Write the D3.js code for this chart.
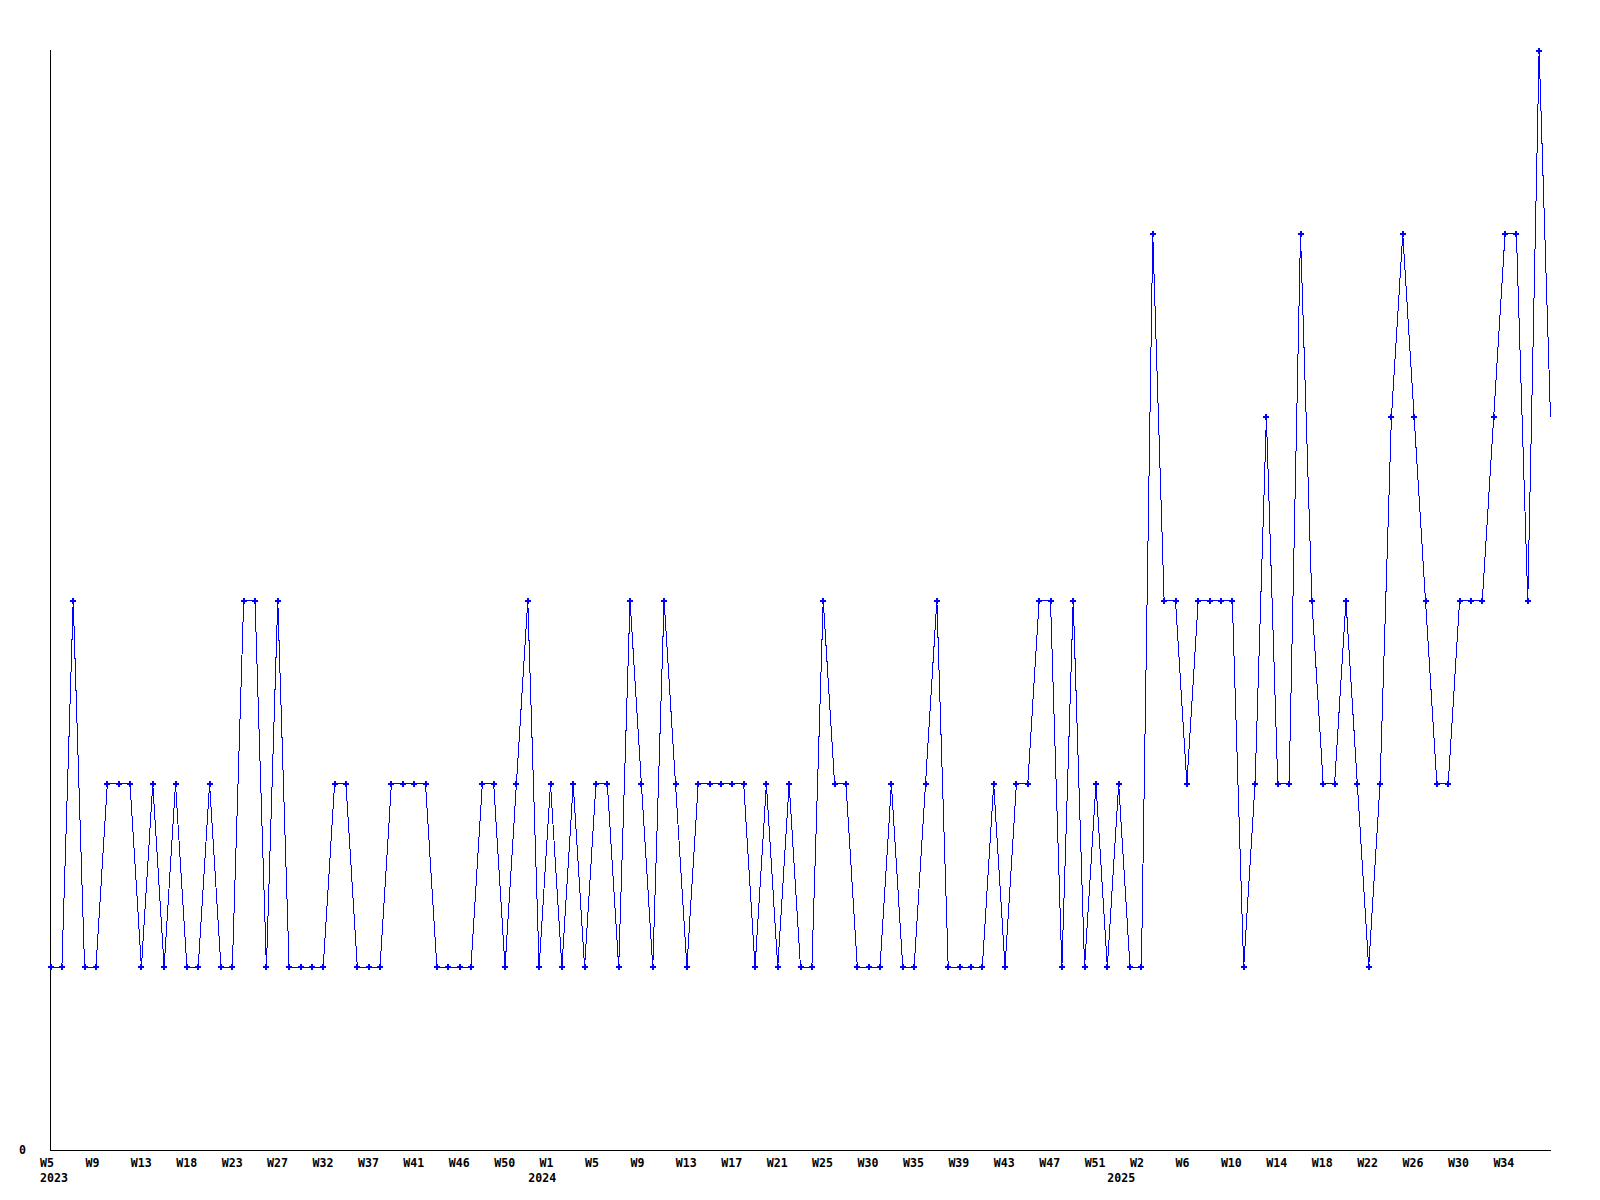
<!DOCTYPE html>
<html>
<head>
<meta charset="utf-8">
<script src="https://cdn.jsdelivr.net/npm/d3@7"></script>
<style>
  html, body { margin: 0; padding: 0; background: #fff; }
  svg { display: block; }
  text { font-family: "DejaVu Sans Mono", "Liberation Mono", monospace; font-weight: bold; font-size: 11.6px; fill: #000; }
</style>
</head>
<body>
<svg id="chart" width="1600" height="1200"></svg>
<script>
// ---- data (weekly counts, 2023 W5 onward) ----
const values2023 = [1,1,3,1,1,2,2,2,1,2,1,2,1,1,2,1,1,3,3,1,3,1,1,1,1,2,2,1,1,1,2,2,2,2,1,1,1,1,2,2,1,2,3,1,2,1,2,1];
const values2024 = [2,2,1,3,2,1,3,2,1,2,2,2,2,2,1,2,1,2,1,1,3,2,2,1,1,1,2,1,1,2,3,1,1,1,1,2,1,2,2,3,3,1,3,1,2,1,2,1,1,5,3,3];
const values2025 = [2,3,3,3,3,1,2,4,2,2,5,3,2,2,3,2,1,2,4,5,4,3,2,2,3,3,3,4,5,5,3,6,4];
const values = values2023.concat(values2024, values2025);

// ---- axis labels ----
const weekTicks = ["W5","W9","W13","W18","W23","W27","W32","W37","W41","W46","W50","W1",
                   "W5","W9","W13","W17","W21","W25","W30","W35","W39","W43","W47","W51",
                   "W2","W6","W10","W14","W18","W22","W26","W30","W34"];
const yearLabels = ["2023","2024","2025"];
const yearSlots = [0, 10.75, 23.5];
const yTickValues = [0];

// ---- layout ----
const svg = d3.select("#chart");
const plotLeft = 50, plotRight = 1550, plotTop = 50, plotBottom = 1150;

const x = d3.scaleLinear().domain([0, values.length - 1]).range([plotLeft, plotRight]);
const y = d3.scaleLinear().domain([0, 6]).range([plotBottom, plotTop]);
const slot = d3.scaleLinear().domain([0, weekTicks.length - 1]).range([40, 1493.4]);

// axes lines
svg.append("line")
  .attr("x1", plotLeft + 0.5).attr("x2", plotLeft + 0.5)
  .attr("y1", y(6)).attr("y2", y(0) + 0.5)
  .attr("stroke", "#000").attr("stroke-width", 1).attr("shape-rendering", "crispEdges");
svg.append("line")
  .attr("x1", plotLeft).attr("x2", plotRight + 1)
  .attr("y1", y(0) + 0.5).attr("y2", y(0) + 0.5)
  .attr("stroke", "#000").attr("stroke-width", 1).attr("shape-rendering", "crispEdges");

// y tick label
svg.selectAll("text.ytick").data(yTickValues).enter().append("text")
  .attr("class", "ytick")
  .attr("x", 26).attr("y", d => y(d) + 4)
  .attr("text-anchor", "end")
  .text(d => d);

// x tick labels
svg.selectAll("text.week").data(weekTicks).enter().append("text")
  .attr("class", "week")
  .attr("x", (d, i) => slot(i)).attr("y", 1167)
  .text(d => d);

svg.selectAll("text.year").data(yearLabels).enter().append("text")
  .attr("class", "year")
  .attr("x", (d, i) => slot(yearSlots[i])).attr("y", 1182)
  .text(d => d);

// data line
const line = d3.line().x((d, i) => x(i) + 0.5).y(d => y(d) + 0.5);
svg.append("path")
  .datum(values)
  .attr("d", line)
  .attr("fill", "none")
  .attr("stroke", "#0000ff")
  .attr("stroke-width", 1)
  .attr("shape-rendering", "crispEdges");

// markers (the last, incomplete week has none)
const sym = d3.symbol().type(d3.symbolCross).size(20);
svg.selectAll("path.mark").data(values.slice(0, values.length - 1)).enter().append("path")
  .attr("class", "mark")
  .attr("d", sym)
  .attr("transform", (d, i) => `translate(${x(i) + 0.5},${y(d) + 0.5})`)
  .attr("fill", "#0000ff")
  .attr("shape-rendering", "crispEdges");
</script>
</body>
</html>
